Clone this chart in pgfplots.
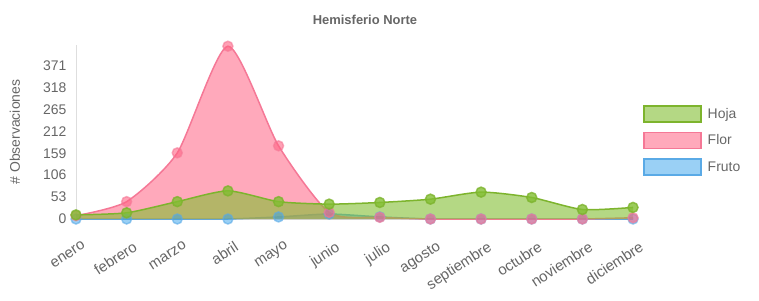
\documentclass[border=0pt]{standalone}
\usepackage{pgfplots}
\pgfplotsset{compat=1.18}
\usepackage{fontspec}
\setmainfont{Liberation Sans}
\definecolor{txt}{RGB}{102,102,102}
\definecolor{hojaF}{RGB}{130,190,50}
\definecolor{hojaL}{RGB}{125,180,45}
\definecolor{florF}{RGB}{255,99,132}
\definecolor{florL}{RGB}{245,120,150}
\definecolor{frutoF}{RGB}{54,162,235}
\definecolor{frutoL}{RGB}{90,170,230}
\definecolor{gridc}{RGB}{222,222,222}
\begin{document}
\begin{tikzpicture}[x=1bp,y=1bp]
\useasboundingbox (0,0) rectangle (759,300);
\node[font=\bfseries\fontsize{13}{15}\selectfont, text=txt] at (365,280) {Hemisferio Norte};
\node[rotate=90, font=\fontsize{14}{16}\selectfont, text=txt] at (15,168) {\# Observaciones};
\begin{axis}[
  at={(76bp,81bp)}, anchor=south west,
  scale only axis, width=557bp, height=174bp,
  xmin=0, xmax=11, ymin=0, ymax=421,
  axis x line*=bottom, axis y line*=left,
  axis line style={draw=gridc, -},
  major tick length=0pt,
  /pgf/number format/assume math mode=true,
  ytick={0,53,106,159,212,265,318,371},
  xtick={0,...,11},
  xticklabels={enero,febrero,marzo,abril,mayo,junio,julio,agosto,septiembre,octubre,noviembre,diciembre},
  tick label style={font=\fontsize{14}{16}\selectfont, text=txt},
  x tick label style={font=\fontsize{15}{17}\selectfont, rotate=33, anchor=north east, inner sep=0pt, xshift=-7bp, yshift=-21bp},
  y tick label style={xshift=-6bp},
  clip=false,
  legend style={at={(rel axis cs:1.018,0.655)}, anchor=north west, draw=none, fill=none,
    font=\fontsize{14}{16}\selectfont, text=txt, row sep=9bp, inner sep=0pt,
    nodes={inner xsep=6bp}},
  legend cell align=left,
]
% Fruto (drawn first, lowest)
\addplot[draw=none, fill=frutoF, fill opacity=0.5, smooth, tension=0.4, forget plot] coordinates {(0,0)(1,0)(2,0)(3,0)(4,5)(5,12)(6,5)(7,0)(8,0)(9,0)(10,0)(11,0)} \closedcycle;
\addplot[frutoL, line width=1.5bp, smooth, tension=0.4, mark=*, mark size=5bp, mark options={fill=frutoF, fill opacity=0.5, draw opacity=0.6}, forget plot] coordinates {(0,0)(1,0)(2,0)(3,0)(4,5)(5,12)(6,5)(7,0)(8,0)(9,0)(10,0)(11,0)};
% Flor
\addplot[draw=none, fill=florF, fill opacity=0.55, smooth, tension=0.4, forget plot] coordinates {(0,8)(1,42)(2,160)(3,418)(4,177)(5,16)(6,4)(7,0)(8,0)(9,0)(10,0)(11,3)} \closedcycle;
\addplot[florL, line width=1.5bp, smooth, tension=0.4, mark=*, mark size=5bp, mark options={fill=florF, fill opacity=0.6, draw opacity=0.6}, forget plot] coordinates {(0,8)(1,42)(2,160)(3,418)(4,177)(5,16)(6,4)(7,0)(8,0)(9,0)(10,0)(11,3)};
% Hoja (top)
\addplot[draw=none, fill=hojaF, fill opacity=0.6, smooth, tension=0.4, forget plot] coordinates {(0,10)(1,15)(2,42)(3,68)(4,42)(5,36)(6,40)(7,48)(8,65)(9,52)(10,23)(11,28)} \closedcycle;
\addplot[hojaL, line width=1.5bp, smooth, tension=0.4, mark=*, mark size=5bp, mark options={fill=hojaF, fill opacity=0.8, draw opacity=0.8}, forget plot] coordinates {(0,10)(1,15)(2,42)(3,68)(4,42)(5,36)(6,40)(7,48)(8,65)(9,52)(10,23)(11,28)};
% legend
\addlegendimage{legend image code/.code={\draw[draw=hojaL, fill=hojaF, fill opacity=0.6, line width=1.5bp] (0bp,-8bp) rectangle (57bp,8bp);}}
\addlegendentry{Hoja}
\addlegendimage{legend image code/.code={\draw[draw=florL, fill=florF, fill opacity=0.55, line width=1.5bp] (0bp,-8bp) rectangle (57bp,8bp);}}
\addlegendentry{Flor}
\addlegendimage{legend image code/.code={\draw[draw=frutoL, fill=frutoF, fill opacity=0.5, line width=1.5bp] (0bp,-8bp) rectangle (57bp,8bp);}}
\addlegendentry{Fruto}
\end{axis}
\end{tikzpicture}
\end{document}
